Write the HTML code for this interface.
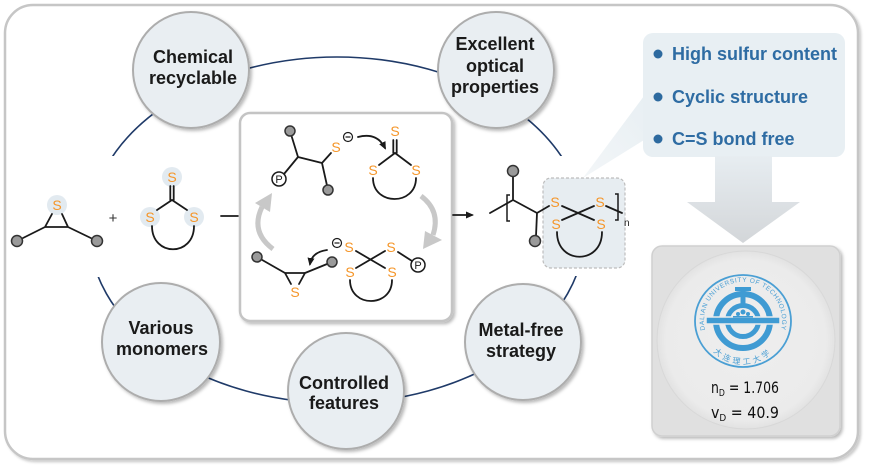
<!DOCTYPE html>
<html><head><meta charset="utf-8">
<style>
html,body{margin:0;padding:0;background:#fff;}
svg{display:block;}
text{font-family:"Liberation Sans",Arial,sans-serif;}
.b{font-size:18px;font-weight:bold;fill:#1a1a1a;text-anchor:middle;}
.s{font-size:14px;fill:#f5962a;text-anchor:middle;dominant-baseline:central;}
.bl{font-size:18px;font-weight:bold;fill:#2e6ca3;}
.m{stroke:#1a1a1a;stroke-width:1.8;fill:none;stroke-linecap:round;stroke-linejoin:round;}
.ball{fill:#9a9a9a;stroke:#333;stroke-width:1.5;}
.halo{fill:#e2eaf0;}
.hw{font-family:"DejaVu Sans",sans-serif;font-size:16px;fill:#111;}
</style></head><body>
<svg width="870" height="472" viewBox="0 0 870 472" xmlns="http://www.w3.org/2000/svg">
<defs>
  <filter id="sh" x="-10%" y="-10%" width="125%" height="125%">
    <feDropShadow dx="2" dy="2" stdDeviation="1.5" flood-color="#000" flood-opacity="0.28"/>
  </filter>
  <filter id="sh2" x="-5%" y="-5%" width="110%" height="110%">
    <feDropShadow dx="2" dy="2" stdDeviation="1.2" flood-color="#000" flood-opacity="0.2"/>
  </filter>
  <marker id="ah" markerWidth="8" markerHeight="7" refX="6" refY="3.5" orient="auto" markerUnits="userSpaceOnUse">
    <path d="M0,0 L8,3.5 L0,7 z" fill="#1a1a1a"/>
  </marker>
  <linearGradient id="arr" x1="0" y1="0" x2="0" y2="1">
    <stop offset="0" stop-color="#e7edf1"/>
    <stop offset="1" stop-color="#d3d6d9"/>
  </linearGradient>
  <linearGradient id="tail" x1="1" y1="0" x2="0" y2="1">
    <stop offset="0" stop-color="#e8eff3"/>
    <stop offset="1" stop-color="#f3f6f8"/>
  </linearGradient>
  <radialGradient id="disc" cx="0.5" cy="0.5" r="0.5">
    <stop offset="0" stop-color="#eeeeee"/>
    <stop offset="0.9" stop-color="#ebebeb"/>
    <stop offset="1" stop-color="#e2e2e2"/>
  </radialGradient>
</defs>

<rect width="870" height="472" fill="#fff"/>
<rect x="5" y="5" width="853" height="454" rx="28" fill="#fff" stroke="#c6c6c6" stroke-width="2.5" filter="url(#sh2)"/>

<ellipse cx="337" cy="230" rx="248" ry="173" fill="none" stroke="#1f3a68" stroke-width="1.6"/>
<rect x="8" y="156" width="204" height="121" fill="#fff"/>
<rect x="483" y="156" width="157" height="120" fill="#fff"/>

<!-- left monomers -->
<circle class="halo" cx="57" cy="205" r="10"/>
<text class="s" x="57" y="205">S</text>
<path class="m" d="M17,241 L45,227 L68,227 L97,241 M45,227 L52,214 M68,227 L62,214"/>
<circle class="ball" cx="17" cy="241" r="5.5"/>
<circle class="ball" cx="97" cy="241" r="5.5"/>
<text x="113" y="223" font-size="15" fill="#333" text-anchor="middle">+</text>
<circle class="halo" cx="172" cy="177" r="10"/>
<circle class="halo" cx="150" cy="217" r="10"/>
<circle class="halo" cx="194" cy="217" r="10"/>
<text class="s" x="172" y="177">S</text>
<text class="s" x="150" y="217">S</text>
<text class="s" x="194" y="217">S</text>
<path class="m" d="M170.3,186 L170.3,200 M173.7,186 L173.7,200 M172,200 L157,210 M172,200 L187,210 M152,226 C152,257 194,257 194,226"/>
<path class="m" d="M221,216 L238,216"/>

<!-- central box -->
<rect x="240" y="113" width="212" height="208" rx="10" fill="#fff" stroke="#c4c4c4" stroke-width="2.5" filter="url(#sh)"/>
<path class="m" d="M290,131 L298,157 L284,174 M298,157 L322,163 L328,190 M322,163 L331,153"/>
<circle class="ball" cx="290" cy="131" r="5"/>
<circle class="ball" cx="328" cy="190" r="5"/>
<circle cx="279" cy="179" r="7" fill="#fff" stroke="#1a1a1a" stroke-width="1.5"/>
<text x="279" y="183" font-size="11" text-anchor="middle" fill="#1a1a1a">P</text>
<text class="s" x="336" y="147">S</text>
<circle cx="348" cy="137" r="4.5" fill="none" stroke="#1a1a1a" stroke-width="1.2"/>
<path d="M345.5,137 L350.5,137" stroke="#1a1a1a" stroke-width="1.2"/>
<path class="m" d="M358,137 Q377,132 385,148" marker-end="url(#ah)"/>
<text class="s" x="395" y="131">S</text>
<path class="m" d="M393.3,140 L393.3,153 M396.7,140 L396.7,153 M395,153 L379,165 M395,153 L411,165 M373,178 C373,206 416,206 416,178"/>
<text class="s" x="373" y="170">S</text>
<text class="s" x="416" y="170">S</text>
<path d="M421,196 Q441,211 433,235" fill="none" stroke="#c8c8c8" stroke-width="5"/>
<polygon points="423,249 425,231 442,240" fill="#c8c8c8"/>
<path d="M273,249 Q250,232 262,207" fill="none" stroke="#c8c8c8" stroke-width="5"/>
<polygon points="272,193 255,203 270,212" fill="#c8c8c8"/>
<path class="m" d="M257,257 L285,273 L305,273 L332,262 M285,273 L291,284 M305,273 L299,284"/>
<circle class="ball" cx="257" cy="257" r="5"/>
<circle class="ball" cx="332" cy="262" r="5"/>
<text class="s" x="295" y="292">S</text>
<circle cx="337" cy="243" r="4.5" fill="none" stroke="#1a1a1a" stroke-width="1.2"/>
<path d="M334.5,243 L339.5,243" stroke="#1a1a1a" stroke-width="1.2"/>
<path class="m" d="M327,250 Q312,252 310,264" marker-end="url(#ah)"/>
<text class="s" x="349" y="247">S</text>
<text class="s" x="391" y="247">S</text>
<text class="s" x="350" y="272">S</text>
<text class="s" x="392" y="272">S</text>
<path class="m" d="M356,251 L385,268 M385,251 L356,268 M398,252 L412,261 M350,280 C350,308 392,308 392,280"/>
<circle cx="418" cy="265" r="7" fill="#fff" stroke="#1a1a1a" stroke-width="1.5"/>
<text x="418" y="269" font-size="11" text-anchor="middle" fill="#1a1a1a">P</text>

<path class="m" d="M453,215 L472,215" marker-end="url(#ah)"/>

<!-- polymer -->
<rect x="543" y="178" width="82" height="90" rx="8" fill="#e7edf1" stroke="#bdbdbd" stroke-width="1.2" stroke-dasharray="3,2"/>
<path class="m" d="M490,213 L513,200 L537,213 L549,206 M513,177 L513,200 M537,213 L536,236"/>
<path d="M510,195 L507,195 L507,221 L510,221" fill="none" stroke="#1a1a1a" stroke-width="1.5"/>
<circle class="ball" cx="513" cy="171" r="5.5"/>
<circle class="ball" cx="535" cy="241" r="5.5"/>
<text class="s" x="555" y="202">S</text>
<text class="s" x="600" y="202">S</text>
<text class="s" x="556" y="224">S</text>
<text class="s" x="601" y="224">S</text>
<path class="m" d="M562,206 L594,220 M594,206 L562,220 M606,206 L622,213 M557,232 C557,265 602,265 602,232"/>
<path d="M615,194 L618,194 L618,220 L615,220" fill="none" stroke="#1a1a1a" stroke-width="1.5"/>
<text x="624" y="226" font-size="10" fill="#1a1a1a">n</text>

<!-- bubbles -->
<g filter="url(#sh)">
  <circle cx="191" cy="70" r="58" fill="#e9eef2" stroke="#adadad" stroke-width="2"/>
  <circle cx="496" cy="70" r="58" fill="#e9eef2" stroke="#adadad" stroke-width="2"/>
  <circle cx="161" cy="342" r="59" fill="#e9eef2" stroke="#adadad" stroke-width="2"/>
  <circle cx="346" cy="391" r="58" fill="#e9eef2" stroke="#adadad" stroke-width="2"/>
  <circle cx="523" cy="342" r="58" fill="#e9eef2" stroke="#adadad" stroke-width="2"/>
</g>
<text class="b" x="193" y="63">Chemical</text>
<text class="b" x="193" y="84">recyclable</text>
<text class="b" x="495" y="50">Excellent</text>
<text class="b" x="495" y="72">optical</text>
<text class="b" x="495" y="93">properties</text>
<text class="b" x="161" y="334">Various</text>
<text class="b" x="162" y="355">monomers</text>
<text class="b" x="344" y="389">Controlled</text>
<text class="b" x="344" y="409">features</text>
<text class="b" x="521" y="336">Metal-free</text>
<text class="b" x="521" y="357">strategy</text>

<!-- callout -->
<polygon points="644,96 644,140 583,178" fill="url(#tail)"/>
<rect x="643" y="33" width="202" height="124" rx="10" fill="#e8eff3"/>
<circle cx="658" cy="54" r="4.5" fill="#2d6a9f"/>
<circle cx="658" cy="97" r="4.5" fill="#2d6a9f"/>
<circle cx="658" cy="139" r="4.5" fill="#2d6a9f"/>
<text class="bl" x="672" y="60">High sulfur content</text>
<text class="bl" x="672" y="103">Cyclic structure</text>
<text class="bl" x="672" y="145">C=S bond free</text>

<polygon points="715,156 772,156 772,202 800,202 743,243 687,202 715,202" fill="url(#arr)"/>

<!-- photo -->
<rect x="652" y="246" width="188" height="190" rx="10" fill="#e0e0e0" stroke="#d0d0d0" stroke-width="1.5" filter="url(#sh)"/>
<circle cx="746" cy="340" r="89" fill="url(#disc)" stroke="#d8d8d8" stroke-width="1"/>
<g transform="translate(743,321)">
  <ellipse rx="48" ry="46" fill="none" stroke="#4a9fd4" stroke-width="1.8"/>
  <path id="tp" d="M-36.6,13.3 A39,39 0 1 1 36.6,13.3" fill="none"/>
  <text font-size="6.5" fill="#4a9fd4" letter-spacing="0.6"><textPath href="#tp" startOffset="50%" text-anchor="middle">DALIAN UNIVERSITY OF TECHNOLOGY</textPath></text>
  <path id="bp" d="M-36,22 A41,41 0 0 0 36,22" fill="none"/>
  <text font-size="8" fill="#4a9fd4" font-family="'Noto Sans CJK SC',sans-serif" letter-spacing="3"><textPath href="#bp" startOffset="50%" text-anchor="middle">大连理工大学</textPath></text>
  <circle r="27" fill="none" stroke="#3f9bd3" stroke-width="6"/>
  <circle r="15.5" fill="none" stroke="#3f9bd3" stroke-width="5"/>
  <rect x="-37" y="-4" width="74" height="7" fill="#3f9bd3" stroke="#ececec" stroke-width="1.5"/>
  <rect x="-2.5" y="-33" width="5" height="16" fill="#3f9bd3"/>
  <rect x="-8" y="-34" width="16" height="4" fill="#3f9bd3"/>
  <circle cx="0" cy="-9" r="2.5" fill="#3f9bd3"/>
  <circle cx="-5" cy="-7" r="2" fill="#3f9bd3"/>
  <circle cx="5" cy="-7" r="2" fill="#3f9bd3"/>
  <rect x="-10" y="-5" width="20" height="1.5" fill="#3f9bd3"/>
</g>
<text class="hw" x="711" y="393" textLength="68" lengthAdjust="spacingAndGlyphs">n<tspan font-size="10" dy="3">D</tspan><tspan dy="-3"> = 1.706</tspan></text>
<text class="hw" x="711" y="418" textLength="68" lengthAdjust="spacingAndGlyphs">v<tspan font-size="10" dy="3">D</tspan><tspan dy="-3"> = 40.9</tspan></text>
</svg>
</body></html>
